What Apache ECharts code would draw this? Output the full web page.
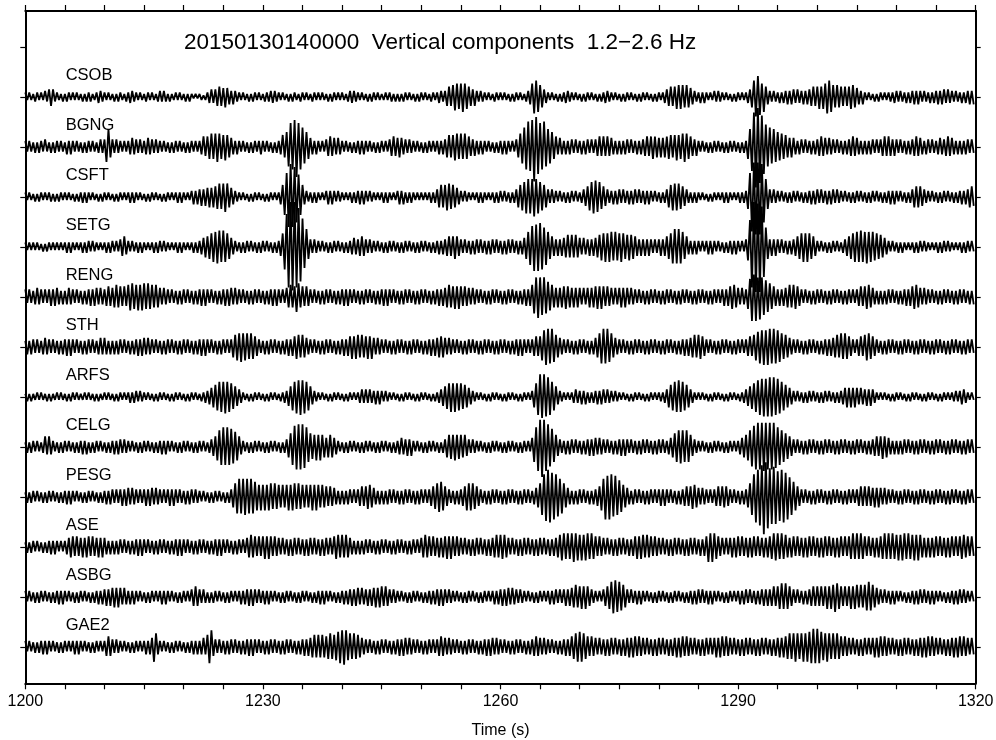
<!DOCTYPE html>
<html><head><meta charset="utf-8">
<script src="https://cdn.jsdelivr.net/npm/echarts@6/dist/echarts.min.js"></script>
<style>html,body{margin:0;padding:0;background:#fff}#c{width:996px;height:740px}</style>
</head><body><div id="c"></div>
<script>
// Station names, top to bottom
const stations = ['CSOB','BGNG','CSFT','SETG','RENG','STH','ARFS','CELG','PESG','ASE','ASBG','GAE2'];
const xTickLabels = [1200, 1230, 1260, 1290, 1320];
const titleText = '20150130140000  Vertical components  1.2\u22122.6 Hz';
const startTime = 1200;      // s
const sampleStep = 0.25;     // s between successive half-cycle peaks
// Peak amplitudes of successive half-cycles (base-36 digits, sign alternates), 4 per second
const CSOB = `
3232 2332 3243 5653 3223 2332 3232 2323 3322 3443
3232 2323 3223 3443 3232 2332 3223 4343 2322 3232
2323 2121 2212 3454 5676 6765 4543 3232 2323 3232
2333 4443 3232 2323 3223 3232 2332 3232 2323 3232
3223 4443 3232 2323 3232 2232 3323 2323 3232 2323
3232 2332 3443 4676 8998 9a98 7656 4343 3232 2332
3232 2323 3232 2345 9bba 8754 3232 2323 3443 3232
2323 3232 2323 3443 3232 2323 3232 2323 3232 2323
3234 5676 7888 8787 6543 3434 3232 4343 3232 2323
3232 3457 bdec 9a75 4343 3434 4545 5454 4545 5676
7878 9bba 8787 7676 7887 6545 3232 2323 3232 3334
4343 3434 4545 4343 3434 4545 5454 4343 3434 4545`;
const BGNG = `
4343 3434 4353 3434 4343 3545 4343 3434 4343 3454
5ac7 5454 4343 4565 5454 4565 5454 4343 3434 4343
3434 4343 4576 7898 9a98 8987 6545 4343 3434 4345
4343 3434 4587 adgf ikgf dba8 6545 4343 5676 6565
4343 3434 4545 4343 3434 4343 5676 6765 5454 4343
3434 4343 4545 5787 8998 9898 7656 4545 4343 3434
4545 4343 579b dfhg inki gfhd cba8 7565 4545 5454
4545 5454 5676 7676 6545 4545 5454 4545 5676 7877
6767 7887 8988 9a98 7656 4343 3434 4343 3434 4343
3434 48cg nrqo lifd dbca a998 8767 6545 5454 4545
5676 6565 5454 4545 5676 6545 4545 5454 5676 7656
5454 4545 5676 6545 5454 4565 5676 6545 4545 5454`;
const CSFT = `
3232 2323 3232 3323 2332 3232 2323 3434 3232 2323
3232 2323 3232 3434 3232 2323 3232 2323 3232 3434
3232 4545 5656 6767 7898 9a97 6543 3232 2323 3232
2323 3232 358c gkmk khfc 8543 3434 3232 4545 4343
3232 3434 4545 4343 3232 3434 3232 4545 3434 3232
3232 3434 5787 8998 8765 4343 3232 3434 3232 3434
4343 3434 5789 abcb cdcb a987 5454 4343 3434 4343
3456 79ab baa8 7654 4545 5454 4545 5454 4545 4343
3434 5789 9998 7654 3434 3232 2323 3232 3434 3232
3434 48gn npnp mhc8 5454 4343 3434 4343 3434 4545
5454 4545 5454 4343 3434 4343 3434 4343 3434 4545
4343 3434 5777 7654 4343 3434 4343 3434 4545 5776`;
const SETG = `
3232 3232 2323 3232 3232 3434 3232 3434 4343 3232
3434 4343 5675 4343 3434 3232 3434 4343 3232 3434
3232 3434 4567 789a abba ba98 6543 3434 4343 3434
4343 3434 469f mrut urqn jec8 5454 4343 3434 4343
3434 4565 5676 5454 4343 3434 4343 3434 4343 3434
4343 3434 4545 5676 7876 5454 4545 5454 4545 5454
4545 5454 4545 68ac egfg gfdc a876 5656 6787 8787
6565 5656 6789 9a9a a9a9 9a98 8988 7656 5656 5454
5656 789b cbcb a875 4545 4343 4545 4343 3434 4545
4343 59ir uutu rkd8 5656 5454 4545 5678 9a9a 9876
4343 3434 4343 3456 789a aaba abaa a998 8765 4343
3434 3232 3434 4343 3232 3434 4343 3232 3434 4343`;
const RENG = `
5454 4565 5454 5656 6545 4565 5454 4545 5656 6565
5676 6787 7676 8998 8989 9898 8787 6565 5454 4545
5454 4545 5656 5454 4545 5656 6565 5454 4545 5454
4545 5656 5454 6787 7a97 7676 5454 4545 5454 4545
5656 5454 4545 5454 4545 5656 5454 4545 5454 4545
5454 4545 5656 6787 7878 7676 6565 5454 4545 5454
4545 5454 4545 5656 8bde dcdb a987 6767 7877 6767
6565 6767 7878 7676 6565 6767 6565 5454 4545 5454
4545 5454 4545 5454 4545 5454 4545 5454 5656 7887
6565 58cg fgdf dcba 9876 5656 6787 8876 5454 4545
5454 4545 5454 4545 5454 5676 7887 6545 4545 5454
4545 5656 7887 6565 5454 4545 5454 4545 5454 4545`;
const STH = `
4545 5454 4565 5454 4545 5656 5454 4545 5454 4565
6545 4545 5454 4545 5656 6565 5454 4545 5454 4545
5454 4545 5656 5454 4545 5454 5789 9a99 9898 7654
4545 5454 4545 5656 7887 8765 5454 4545 5454 4545
5656 7878 8787 7878 6565 5454 4545 5454 4545 5454
4545 5656 6777 6565 5454 4545 5454 4545 5454 4545
5454 4545 5656 5454 5676 79bc cbca 8765 5454 4545
5454 4545 679b cbca 9765 5454 4545 5454 4545 5454
4545 5454 4545 5656 6787 8876 5454 4545 5454 4545
5454 5676 89ab bcbc cbcb ba98 8765 5454 4545 5454
4545 5656 6787 9898 7654 5676 8998 7654 4545 5454
4545 5454 4545 5454 4545 5454 4545 5454 4545 5454`;
const ARFS = `
2323 2232 3223 2322 3232 2323 3232 2232 3223 2322
3232 2323 3232 3434 4343 3232 2323 3232 2323 3232
2323 3232 2334 4567 89aa abaa 9876 5432 2323 3232
2323 3232 2334 4679 abbc bba9 7543 3232 2323 3232
2323 3232 3454 5454 4545 4343 3232 2323 3232 2323
3232 2323 3456 789a 9a99 9887 6543 3232 2323 3232
2323 3232 2323 3232 479c fefd dca9 7543 3232 3454
4545 3434 4545 5454 4343 3232 2323 3232 2323 3232
3334 5789 aaba a987 5432 3232 2323 3232 2323 3232
2334 5678 9abc cdcd dddc cba9 8765 4343 3434 4343
3434 4343 3434 4567 6767 6565 5656 5432 3232 2323
3232 2323 3232 2323 3232 2323 3232 3343 4554 3232`;
const CELG = `
3434 4343 3475 7543 3434 4343 3434 4545 3434 4343
3434 4545 5454 4343 3434 4343 3434 4545 4343 3434
4343 3434 4343 3456 79bc dcdc cba9 7543 3434 4343
3434 4343 3434 579c efff feda 9889 8987 6787 6543
3434 4343 3434 4343 3434 4343 3434 4565 5656 4343
3434 4343 3434 5788 8988 8786 5454 4343 3434 4343
3434 4343 3434 4343 6adg ikig fdca 8654 4545 5454
4545 5656 6565 5454 4545 5656 5454 4545 5454 4545
5454 4567 9abb baba 8654 4343 3434 4343 3434 4343
4567 89bd efgf gggf gfge dcba 9876 5454 4545 5454
4545 5454 4545 5454 4545 5454 4545 5676 7877 6545
4545 5454 4545 5454 4545 5454 4545 5454 4545 5454`;
const PESG = `
3434 4343 3434 4343 3434 4545 4343 3434 4343 3434
4545 5454 5656 6565 5454 5656 6565 5454 5656 5454
4545 5454 4343 3434 4343 3434 579b cbcc cbcb a989
8989 9898 8787 8989 9898 8787 8989 8787 7676 6545
4545 5454 5676 7887 6545 4545 5454 4545 5454 4545
5454 5678 9aa9 7654 4545 5679 9998 7654 4545 5454
4545 5454 4545 5454 4567 9cfg ihgf fdcb 9765 4545
5454 4545 5679 cfef fdec ba87 6545 5454 4545 5454
5656 5454 4545 5676 7887 6565 5454 5676 7776 5454
4545 579c fhij lpnl jiki hgih gfdc a976 5454 4545
5454 4545 5454 4545 5454 5676 7676 6767 6565 5454
4545 5454 4545 5454 4545 5454 4545 5454 4545 5454`;
const ASE = `
3434 4343 3434 4545 4343 4567 7676 6767 7676 6767
6545 4545 5454 4545 5656 5454 4545 5454 4545 5656
5454 4545 5454 4545 5656 5454 4545 5454 6787 7676
7878 7676 6565 5656 6565 5656 6565 5656 6565 7887
8787 6545 4545 5454 4545 5454 4545 5454 4545 5454
6787 7676 6767 7878 7676 6565 5656 6565 5656 6787
8887 6565 5656 6565 5656 6565 5656 6789 9898 9a99
8989 9898 7676 6565 5656 6565 5656 7878 8787 7676
6565 5656 6565 5656 6565 5656 7a9a 9876 6565 6767
7676 6767 7676 6767 7899 9898 8767 7676 6767 7676
6767 7676 6767 7676 7898 9898 7676 6767 7898 9898
8989 9898 8989 8767 6767 7676 6767 7676 7887 7676`;
const ASBG = `
4343 3434 4343 3434 4545 4343 3434 4343 3434 4545
5656 6767 6565 4545 4343 3434 4343 4545 4343 3434
4343 5676 5454 3434 4343 3434 4343 4545 5656 5454
4545 4343 3434 4343 3434 4343 3434 4545 4343 3434
4545 5656 6565 5656 6767 7676 5454 4343 3434 4343
3434 4545 5656 5454 4343 3434 4343 3434 4343 4545
5656 6565 5454 4343 3434 4343 4545 5454 5656 6787
7878 7654 4343 5678 abba a987 5454 4545 4343 3434
4343 3434 4343 3434 4545 5454 4545 4343 3434 4343
4545 5454 4545 5656 5676 7898 9876 5454 4545 5676
7676 7878 8a98 7676 7878 8787 89a9 8765 5454 4545
4343 3434 4545 5454 4545 4343 3434 4545 5454 4343`;
const GAE2 = `
4343 3434 4545 4343 3434 4343 4545 4343 3434 4343
4676 5454 4343 3434 4343 4545 6a95 4343 3434 4343
3434 4545 4565 8bb6 5454 4545 5454 4545 5656 5454
4545 5454 4545 5454 4545 5656 6787 8787 7898 89ab
bcb9 9898 8765 5454 4545 5454 4545 5656 6565 5454
4545 5454 5676 6565 5454 4545 5454 4545 5656 6565
5454 4545 5454 4545 5676 6565 5454 4545 5656 789a
aa98 7676 6565 5656 6565 5656 6767 7676 6565 5656
6565 5656 6767 7676 6565 5656 6565 6767 7676 6565
5656 6565 5656 6565 5656 6767 7898 9a98 9a9a abcb
cba9 9a98 9898 7676 6565 5656 6565 6767 7676 6565
5656 6565 5656 6767 7676 6565 5656 6767 7676 6565`;
const traces = [CSOB, BGNG, CSFT, SETG, RENG, STH, ARFS, CELG, PESG, ASE, ASBG, GAE2];

// ---- drawing ----
const AMP = 0.03;   // one count = 0.03 trace spacings
const FONT = '"Liberation Sans", Arial, Helvetica, sans-serif';
const nTr = stations.length;
const series = [];
traces.forEach((s, k) => {
  const codes = s.replace(/\s+/g, '');
  const base = nTr - 1 - k;
  const data = [];
  for (let i = 0; i < codes.length; i++) {
    const a = parseInt(codes[i], 36) * AMP;
    data.push([startTime + i * sampleStep, base + (i % 2 ? -a : a)]);
  }
  series.push({ type: 'line', data, symbol: 'none', showSymbol: false, silent: true,
    lineStyle: { color: '#000', width: 1.8 }, animation: false, z: 2 });
});
const yTicks = [];
for (let v = 0; v <= nTr; v++) yTicks.push(v);
const yBase = {
  type: 'value', min: -0.73, max: nTr + 0.72, splitLine: { show: false },
  axisLine: { show: true, lineStyle: { color: '#000', width: 2 } },
  axisTick: { show: true, customValues: yTicks, length: 5, lineStyle: { color: '#000', width: 1.2 } },
  axisLabel: { show: false }
};
const xBase = {
  type: 'value', min: 1200, max: 1320, interval: 5, splitLine: { show: false },
  axisLine: { show: true, onZero: false, lineStyle: { color: '#000', width: 2 } },
  axisTick: { show: true, length: 6, lineStyle: { color: '#000', width: 1.2 } }
};
const chart = echarts.init(document.getElementById('c'), null, { renderer: 'canvas' });
chart.setOption({
  animation: false,
  backgroundColor: '#fff',
  grid: { left: 25.3, right: 20.3, top: 11, bottom: 56.7, containLabel: false, outerBoundsMode: 'none' },
  xAxis: [
    Object.assign({}, xBase, { position: 'bottom',
      axisLabel: { show: true, margin: 10, color: '#000', fontSize: 16, fontFamily: FONT,
        showMinLabel: true, showMaxLabel: true,
        formatter: v => xTickLabels.includes(v) ? String(v) : '' },
      name: 'Time (s)', nameLocation: 'middle', nameGap: 39,
      nameTextStyle: { color: '#000', fontSize: 16, fontFamily: FONT } }),
    Object.assign({}, xBase, { position: 'top', axisLabel: { show: false } })
  ],
  yAxis: [
    Object.assign({}, yBase, { position: 'left' }),
    Object.assign({}, yBase, { position: 'right' })
  ],
  series
});
// Station labels: placed relative to each trace's baseline
const labelEls = stations.map((n, k) => {
  const p = chart.convertToPixel({ gridIndex: 0 }, [startTime, nTr - 1 - k]);
  return { type: 'text', x: p[0] + 40.4, y: p[1] - 21.5, z: 10,
    style: { text: n, font: '16.5px ' + FONT, fill: '#000', textAlign: 'left', textVerticalAlign: 'middle' } };
});
chart.setOption({ graphic: [{ type: 'text', left: 184, top: 31, z: 10,
    style: { text: titleText, font: '22.5px ' + FONT, fill: '#000' } }].concat(labelEls) });
</script></body></html>
